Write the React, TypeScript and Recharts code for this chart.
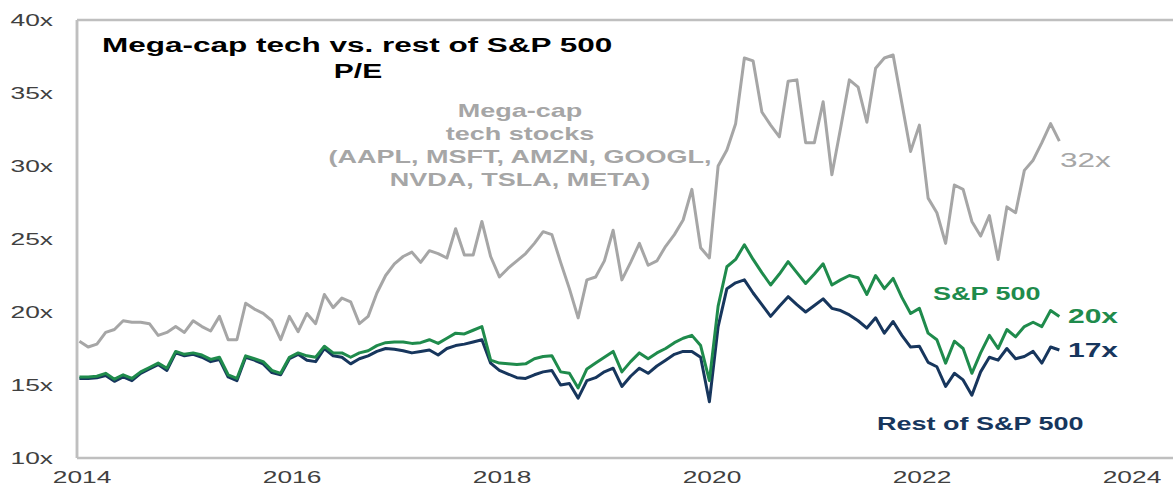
import { LineChart, Line, XAxis, YAxis, ReferenceLine } from 'recharts';

// Monthly forward P/E, first point sits just left of the 2014 tick
const firstMonth = 2013.975;
const yearTicks = [2014, 2016, 2018, 2020, 2022, 2024];
const peTicks = [10, 15, 20, 25, 30, 35, 40];

const megaCapPE = [
  18.0, 17.6, 17.8, 18.6, 18.8, 19.4, 19.3, 19.3, 19.2, 18.4,
  18.6, 19.0, 18.6, 19.4, 19.0, 18.7, 19.7, 18.1, 18.1, 20.6,
  20.2, 19.9, 19.4, 18.1, 19.7, 18.65, 19.9, 19.2, 21.2, 20.3,
  20.95, 20.7, 19.2, 19.7, 21.3, 22.5, 23.3, 23.8, 24.1, 23.4,
  24.2, 24.0, 23.7, 25.7, 23.9, 23.9, 26.2, 23.8, 22.4, 23.0,
  23.5, 24.0, 24.7, 25.5, 25.3, 23.4, 21.6, 19.6, 22.2, 22.4,
  23.5, 25.6, 22.2, 23.4, 24.7, 23.2, 23.5, 24.5, 25.3, 26.3,
  28.4, 24.4, 23.7, 30.0, 31.1, 32.9, 37.4, 37.2, 33.7, 32.8,
  32.0, 35.8, 35.9, 31.6, 31.6, 34.4, 29.4, 32.6, 35.9, 35.4,
  33.0, 36.7, 37.4, 37.6, 34.3, 31.0, 32.8, 27.8, 26.8, 24.7,
  28.7, 28.4, 26.2, 25.2, 26.6, 23.6, 27.2, 26.8, 29.7, 30.4,
  31.6, 32.9, 31.7,
];

const sp500PE = [
  15.55, 15.55, 15.6, 15.8, 15.4, 15.7, 15.45, 15.9, 16.2, 16.5,
  16.15, 17.3, 17.1, 17.2, 17.05, 16.75, 16.9, 15.7, 15.45, 17.0,
  16.8, 16.6, 16.0, 15.8, 16.9, 17.2, 17.0, 16.9, 17.65, 17.2,
  17.2, 16.9, 17.2, 17.35, 17.7, 17.9, 17.95, 17.95, 17.85, 17.9,
  18.1, 17.85, 18.2, 18.55, 18.5, 18.75, 19.0, 16.7, 16.5, 16.45,
  16.4, 16.45, 16.8, 16.95, 17.0, 15.9, 15.8, 14.8, 16.1, 16.5,
  16.9, 17.3, 15.9, 16.6, 17.2, 16.8, 17.2, 17.5, 17.9, 18.2,
  18.4, 17.7, 15.3, 20.4, 23.1, 23.6, 24.6, 23.6, 22.7, 21.85,
  22.6, 23.45, 22.7, 21.95, 22.6, 23.3, 21.85, 22.2, 22.5, 22.35,
  21.2, 22.5, 21.6, 22.3, 21.0, 19.9, 20.25, 18.55, 18.1, 16.5,
  18.0, 17.5, 15.8, 17.2, 18.4, 17.5, 18.8, 18.3, 19.0, 19.3,
  19.0, 20.1, 19.7,
];

const restPE = [
  15.45, 15.45, 15.5, 15.65, 15.25, 15.55, 15.3, 15.8, 16.1, 16.4,
  16.0, 17.2, 17.0, 17.1, 16.9, 16.6, 16.75, 15.55, 15.3, 16.9,
  16.7, 16.45, 15.85, 15.7, 16.8, 17.1, 16.7, 16.6, 17.5, 17.0,
  16.9, 16.45, 16.8, 17.0, 17.3, 17.5, 17.45, 17.35, 17.2, 17.3,
  17.4, 17.05, 17.5, 17.7, 17.8, 17.95, 18.1, 16.5, 16.0, 15.75,
  15.5, 15.45, 15.7, 15.9, 16.0, 15.0, 15.1, 14.1, 15.3, 15.5,
  15.9, 16.15, 14.9, 15.6, 16.15, 15.8, 16.3, 16.7, 17.1, 17.3,
  17.3, 16.9, 13.85, 19.0, 21.6, 22.0, 22.2, 21.3, 20.5, 19.7,
  20.4, 21.05, 20.5, 20.0, 20.45, 20.9, 20.25, 20.1, 19.8, 19.4,
  18.9, 19.6, 18.55, 19.35, 18.4, 17.6, 17.65, 16.55, 16.25, 14.9,
  15.8, 15.35, 14.3, 15.9, 16.9, 16.7, 17.5, 16.8, 16.95, 17.3,
  16.5, 17.6, 17.4,
];

const chartData = megaCapPE.map((v, i) => ({
  t: firstMonth + i / 12,
  mega: v,
  sp: sp500PE[i],
  rest: restPE[i],
}));

const X_DOMAIN = [2013.952, 2024.505];
const FONT = "'Liberation Sans', Arial, sans-serif";
const GRAY = '#a6a6a6';
const GREEN = '#1f8b4c';
const NAVY = '#17365d';
const BORDER = '#bfbfbf';

// the source picture is stretched sideways, so text gets a horizontal scale
function Stretched({ x, y, size, weight = 'normal', fill, anchor = 'start', sx = 1.5, children }: any) {
  return (
    <text
      transform={`translate(${x},${y}) scale(${sx},1)`}
      fontSize={size}
      fontWeight={weight}
      fill={fill}
      textAnchor={anchor}
      fontFamily={FONT}
    >
      {children}
    </text>
  );
}

const XTick = ({ x, y, payload }: any) => (
  <Stretched x={x} y={y + 25} size={17} sx={1.55} anchor="middle" fill="#404040">
    {payload.value}
  </Stretched>
);

const YTick = ({ x, y, payload }: any) => (
  <Stretched x={x - 24} y={y + 6} size={17} sx={1.55} anchor="end" fill="#404040">
    {payload.value}x
  </Stretched>
);

export default function App() {
  return (
    <div style={{ position: 'relative', width: 1173, height: 488, overflow: 'hidden', background: '#fff' }}>
      <style>{'body{margin:0}'}</style>
      <LineChart width={1185} height={488} data={chartData} margin={{ top: 20, right: 0, bottom: 0, left: 0 }}>
        <XAxis
          dataKey="t"
          type="number"
          domain={X_DOMAIN}
          ticks={yearTicks}
          interval={0}
          tick={<XTick />}
          tickLine={false}
          tickSize={0}
          tickMargin={0}
          height={30}
          axisLine={{ stroke: BORDER, strokeWidth: 2.5 }}
        />
        <YAxis
          type="number"
          domain={[10, 40]}
          ticks={peTicks}
          interval={0}
          tick={<YTick />}
          tickLine={false}
          tickSize={0}
          tickMargin={0}
          width={77}
          axisLine={{ stroke: BORDER, strokeWidth: 2.5 }}
        />
        <ReferenceLine y={40} stroke={BORDER} strokeWidth={2.5} ifOverflow="visible" />
        <ReferenceLine x={X_DOMAIN[0]} stroke={BORDER} strokeWidth={2.5} ifOverflow="visible" />
        <Line type="linear" dataKey="mega" stroke={GRAY} strokeWidth={3} dot={false} isAnimationActive={false} strokeLinejoin="round" />
        <Line type="linear" dataKey="rest" stroke={NAVY} strokeWidth={3} dot={false} isAnimationActive={false} strokeLinejoin="round" />
        <Line type="linear" dataKey="sp" stroke={GREEN} strokeWidth={3} dot={false} isAnimationActive={false} strokeLinejoin="round" />
      </LineChart>
      <svg width={1173} height={488} style={{ position: 'absolute', left: 0, top: 0, pointerEvents: 'none' }}>
        <Stretched x={102} y={52} size={21} weight="bold" fill="#000">Mega-cap tech vs. rest of S&amp;P 500</Stretched>
        <Stretched x={358} y={78} size={20} weight="bold" fill="#000" anchor="middle">P/E</Stretched>
        <Stretched x={520} y={117} size={18} weight="bold" fill={GRAY} anchor="middle">Mega-cap</Stretched>
        <Stretched x={520} y={140} size={18} weight="bold" fill={GRAY} anchor="middle">tech stocks</Stretched>
        <Stretched x={520} y={163} size={18} weight="bold" fill={GRAY} anchor="middle">(AAPL, MSFT, AMZN, GOOGL,</Stretched>
        <Stretched x={520} y={186} size={18} weight="bold" fill={GRAY} anchor="middle">NVDA, TSLA, META)</Stretched>
        <Stretched x={1060} y={167} size={21} fill={GRAY}>32x</Stretched>
        <Stretched x={933} y={300} size={18} weight="bold" fill={GREEN}>S&amp;P 500</Stretched>
        <Stretched x={1068} y={323} size={20} weight="bold" fill={GREEN}>20x</Stretched>
        <Stretched x={1068} y={357} size={20} weight="bold" fill={NAVY}>17x</Stretched>
        <Stretched x={877} y={430} size={18} weight="bold" fill={NAVY}>Rest of S&amp;P 500</Stretched>
      </svg>
    </div>
  );
}
